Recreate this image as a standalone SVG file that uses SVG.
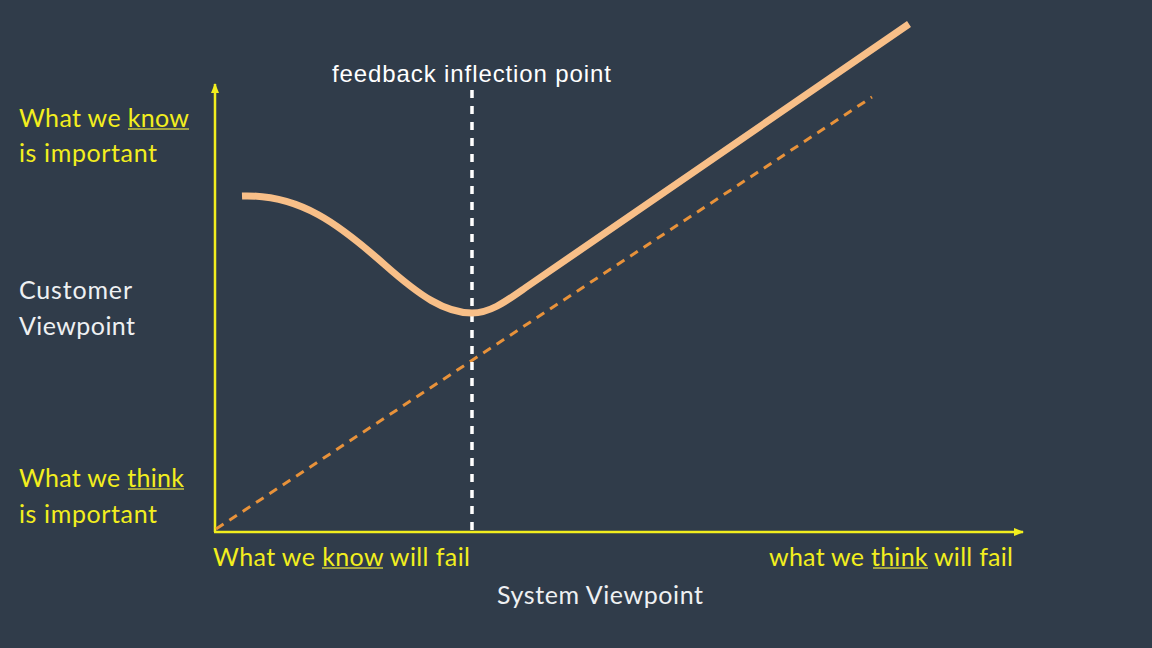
<svg xmlns="http://www.w3.org/2000/svg" width="1152" height="648" viewBox="0 0 1152 648">
<defs>
<style>
.y{fill:#f2ee1e;font-family:Lato,"Open Sans",sans-serif;font-size:25px}
.w{fill:#eef0f2;font-family:Lato,"Open Sans",sans-serif;font-size:25px}
.ul{stroke:#c9c640;stroke-width:1.5}
</style>
<marker id="ah" viewBox="0 0 10 10" refX="9" refY="5" markerWidth="10" markerHeight="10" markerUnits="userSpaceOnUse" orient="auto"><path d="M0,1 L10,5 L0,9 Z" fill="#f2ee1e"/></marker>
</defs>
<rect width="1152" height="648" fill="#303c4a"/>
<g id="connectors">
<line x1="215" y1="532" x2="215" y2="84" stroke="#f2ee1e" stroke-width="2.5" marker-end="url(#ah)"/>
<line x1="214" y1="532" x2="1023" y2="532" stroke="#f2ee1e" stroke-width="2.5" marker-end="url(#ah)"/>
<line x1="216" y1="529" x2="872" y2="97" stroke="#e8923a" stroke-width="3" stroke-dasharray="9,7"/>
<line x1="472" y1="90" x2="472" y2="530" stroke="#ffffff" stroke-width="3.5" stroke-dasharray="8,8"/>
<path d="M242,196 C300,194 340,225 385,265 C420,296 445,313 472,313 C490,313 505,302 525,288 L909,24" fill="none" stroke="#f8bf88" stroke-width="7"/>
</g>
<g id="y-top">
<text class="y" x="19" y="127" textLength="170">What we know</text>
<line class="ul" x1="128" y1="129" x2="189" y2="129"/>
<text class="y" x="19" y="162" textLength="138">is important</text>
</g>
<g id="y-mid">
<text class="w" x="19" y="299" textLength="113">Customer</text>
<text class="w" x="19" y="335" textLength="116">Viewpoint</text>
</g>
<g id="y-bottom">
<text class="y" x="19" y="487" textLength="165">What we think</text>
<line class="ul" x1="128" y1="489" x2="184" y2="489"/>
<text class="y" x="19" y="523" textLength="138">is important</text>
</g>
<g id="x-left">
<text class="y" x="213" y="566" textLength="257">What we know will fail</text>
<line class="ul" x1="322" y1="568" x2="383" y2="568"/>
</g>
<g id="x-right">
<text class="y" x="769" y="566" textLength="244">what we think will fail</text>
<line class="ul" x1="873" y1="568" x2="928" y2="568"/>
</g>
<g id="x-title">
<text class="w" x="497" y="604" textLength="206">System Viewpoint</text>
</g>
<g id="inflection-label">
<text x="332" y="82" fill="#ffffff" font-family="Liberation Sans,Arial,sans-serif" font-size="24" textLength="279">feedback inflection point</text>
</g>
</svg>
